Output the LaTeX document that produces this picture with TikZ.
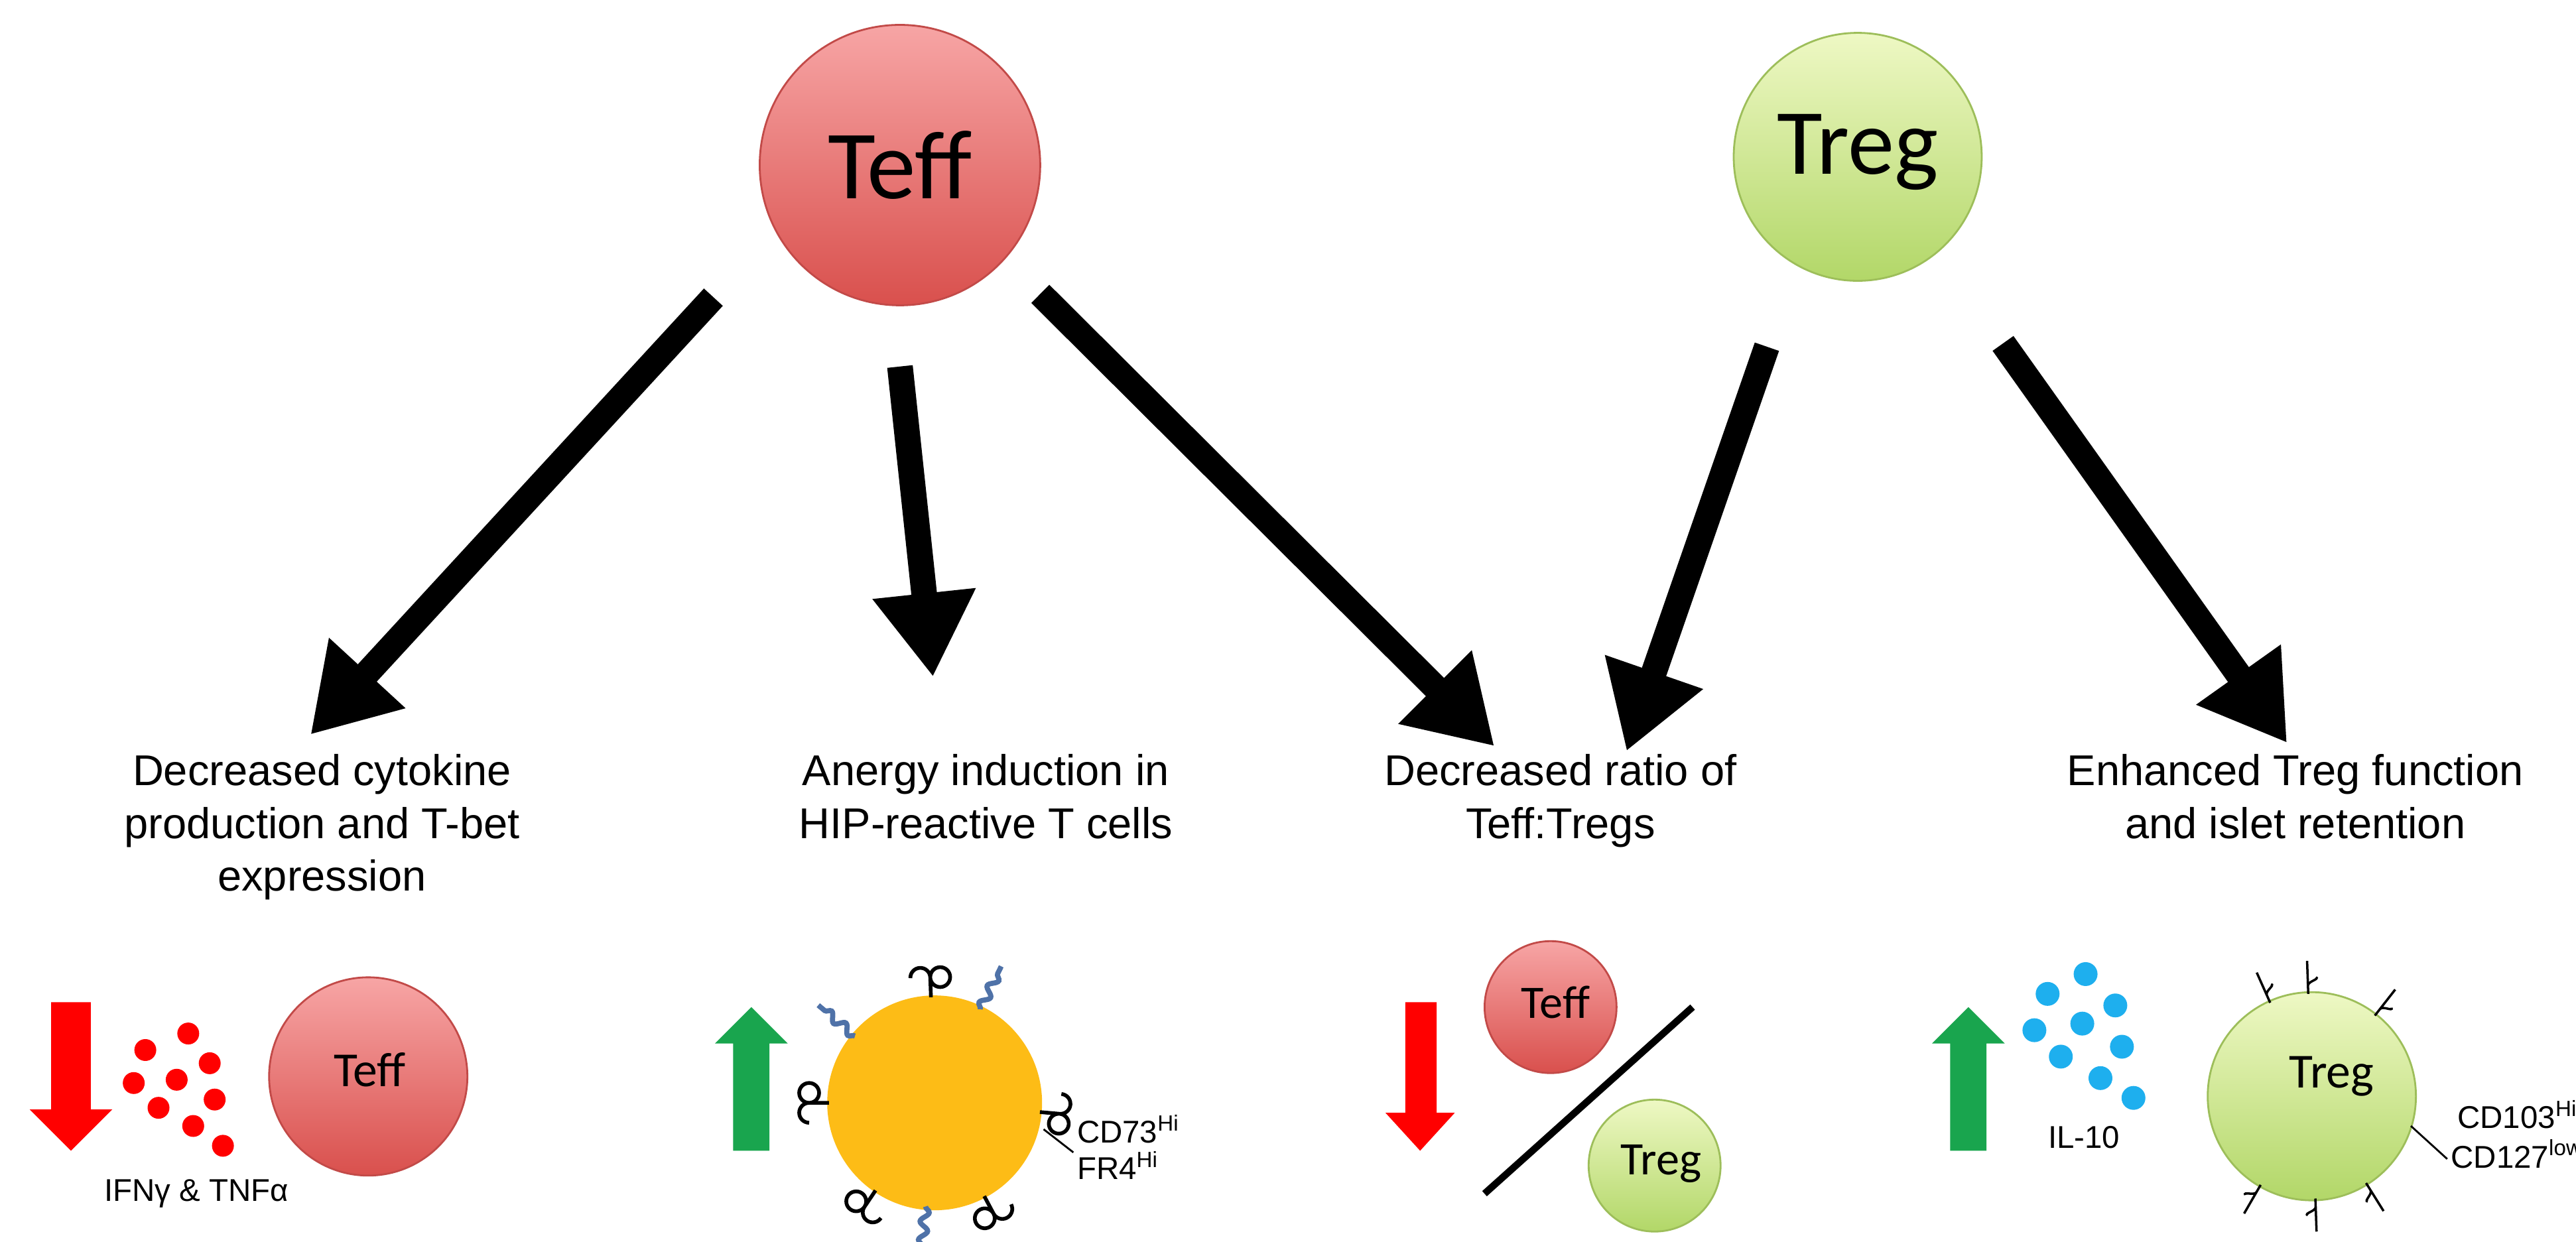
\documentclass[tikz,border=0pt]{standalone}
\usepackage{fontspec}
\setmainfont{Liberation Sans}
\newfontfamily\carl{Carlito}
\usetikzlibrary{arrows.meta,decorations.pathmorphing,calc}
\definecolor{redtop}{HTML}{F7A5A5}
\definecolor{redbot}{HTML}{D9504D}
\definecolor{redline}{HTML}{C24A48}
\definecolor{grtop}{HTML}{EEF8C4}
\definecolor{grbot}{HTML}{B2D768}
\definecolor{grline}{HTML}{9DBE5A}
\definecolor{orangec}{HTML}{FDBC16}
\definecolor{arrgreen}{HTML}{19A54E}
\definecolor{arrred}{HTML}{FF0000}
\definecolor{ildot}{HTML}{1EAFEE}
\definecolor{squig}{HTML}{4F72A8}
\tikzset{
 big/.style={line width=11pt,-{Triangle[length=36pt,width=42pt]}},
 rcell/.style={circle,draw=redline,line width=0.8pt,top color=redtop,bottom color=redbot,inner sep=0pt},
 gcell/.style={circle,draw=grline,line width=0.8pt,top color=grtop,bottom color=grbot,inner sep=0pt},
 head/.style={align=center,font=\fontsize{18.5}{22.6}\selectfont},
 small/.style={font=\fontsize{13.5}{15}\selectfont,inner sep=0pt},
 rdot/.style={circle,fill=arrred,inner sep=0pt,minimum size=0.33cm},
 bdot/.style={circle,fill=ildot,inner sep=0pt,minimum size=0.36cm},
}
\newcommand{\orec}[1]{\begin{scope}[shift={(oc.center)},rotate=#1]
 \draw[line width=1.6pt] (64,0)--(76,0) arc (270:90+360:0.15cm) (76,0) arc (90:-270:0.15cm);
 \end{scope}}
\newcommand{\osq}[1]{\begin{scope}[shift={(oc.center)},rotate=#1]
 \draw[squig,line width=2.2pt,decorate,decoration={snake,amplitude=1.8pt,segment length=8pt}] (63,0)--(92,0);
 \end{scope}}
\newcommand{\trec}[1]{\begin{scope}[shift={(tc.center)},rotate=#1]
 \draw[line width=1pt] (62,0)--(82,0) (67,0) to[out=0,in=-120] (72,5);
 \end{scope}}
\begin{document}
\begin{tikzpicture}[x=0.0249cm,y=-0.0249cm]
\useasboundingbox (0,0) rectangle (1560,752);
% top cells
\node[rcell,minimum size=4.23cm] (teff) at (545,100) {};
\node[font=\carl\fontsize{42}{42}\selectfont] (teffl) at (545,100) {Teff};
\node[gcell,minimum size=3.74cm] (treg) at (1125,95) {};
\node[font=\carl\fontsize{40}{40}\selectfont] (tregl) at (1125,92) {Treg};
% arrows
\coordinate (a1s) at (432,180); \coordinate (a1e) at (188,445);
\coordinate (a2s) at (545,222); \coordinate (a2e) at (565,410);
\coordinate (a3s) at (630,178); \coordinate (a3e) at (905,452);
\coordinate (a4s) at (1070,210); \coordinate (a4e) at (985,455);
\coordinate (a5s) at (1213,208); \coordinate (a5e) at (1385,450);
\draw[big] (a1s)--(a1e);
\draw[big] (a2s)--(a2e);
\draw[big] (a3s)--(a3e);
\draw[big] (a4s)--(a4e);
\draw[big] (a5s)--(a5e);
% headings
\node[head,anchor=north] (h1) at (195,452) {Decreased cytokine\\production and T-bet\\expression};
\node[head,anchor=north] (h2) at (597,452) {Anergy induction in\\HIP-reactive T cells};
\node[head,anchor=north] (h3) at (945,452) {Decreased ratio of\\Teff:Tregs};
\node[head,anchor=north] (h4) at (1390,452) {Enhanced Treg function\\and islet retention};
% panel 1
\fill[arrred] (31,607)--(55,607)--(55,672)--(68,672)--(43,697)--(18,672)--(31,672)--cycle;
\foreach \p/\n in {{(114,626)}/d1,{(88,636)}/d2,{(127,644)}/d3,{(81,656)}/d4,{(107,654)}/d5,{(130,666)}/d6,{(96,671)}/d7,{(117,682)}/d8,{(135,694)}/d9}
  \node[rdot] (\n) at \p {};
\node[rcell,minimum size=2.99cm] (c1) at (223,652) {};
\node[font=\carl\fontsize{21}{21}\selectfont] (c1l) at (224,648) {Teff};
\node[small] (ifn) at (119,723) {IFNγ \& TNFα};
% panel 2
\fill[arrgreen] (444,697)--(466,697)--(466,632)--(477,632)--(455,610)--(433,632)--(444,632)--cycle;
\node[circle,fill=orangec,inner sep=0pt,minimum size=3.24cm] (oc) at (566,668) {};
\orec{92}\orec{180}\orec{-5}\orec{236}\orec{298}
\osq{64}\osq{140}\osq{265}
\draw[line width=0.8pt] (632,684)--(650,698);
\node[small,anchor=west] (cd73) at (652,684) {CD73\textsuperscript{Hi}};
\node[small,anchor=west] (fr4) at (652,706) {FR4\textsuperscript{Hi}};
% panel 3
\fill[arrred] (851,607)--(870,607)--(870,674)--(881,674)--(860,697)--(839,674)--(851,674)--cycle;
\node[rcell,minimum size=1.99cm] (c3a) at (939,610) {};
\node[font=\carl\fontsize{20}{20}\selectfont] (c3al) at (942,607) {Teff};
\coordinate (l1) at (899,723); \coordinate (l2) at (1025,610);
\draw[line width=3pt] (l1)--(l2);
\node[gcell,minimum size=1.99cm] (c3b) at (1002,706) {};
\node[font=\carl\fontsize{20}{20}\selectfont] (c3bl) at (1006,705) {Treg};
% panel 4
\fill[arrgreen] (1181,697)--(1203,697)--(1203,632)--(1214,632)--(1192,610)--(1170,632)--(1181,632)--cycle;
\foreach \p/\n in {{(1263,590)}/e1,{(1240,602)}/e2,{(1281,609)}/e3,{(1232,624)}/e4,{(1261,620)}/e5,{(1285,634)}/e6,{(1248,640)}/e7,{(1272,653)}/e8,{(1292,665)}/e9}
  \node[bdot] (\n) at \p {};
\node[small] (il) at (1262,689) {IL-10};
\node[gcell,minimum size=3.14cm] (tc) at (1400,664) {};
\node[font=\carl\fontsize{21}{21}\selectfont] (tcl) at (1412,652) {Treg};
\trec{92}\trec{114}\trec{52}\trec{240}\trec{272}\trec{302}
\draw[line width=0.8pt] (1460,682)--(1482,702);
\node[small,anchor=west] (cd103) at (1488,675) {CD103\textsuperscript{Hi}};
\node[small,anchor=west] (cd127) at (1484,699) {CD127\textsuperscript{low}};
\end{tikzpicture}
\end{document}
